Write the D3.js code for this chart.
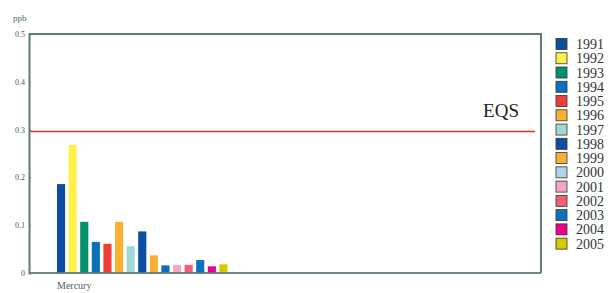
<!DOCTYPE html>
<html lang="en">
<head>
    <meta charset="UTF-8">
    <title>Mercury ppb</title>
    <style>
        body { margin: 0; background: #ffffff; }
        svg { display: block; }
    </style>
    <script src="https://cdn.jsdelivr.net/npm/d3@7"></script>
</head>
<body>
    <svg width="610" height="293"></svg>
    <script>
        // data
        const categories = ["Mercury"];
        const years = ["1991", "1992", "1993", "1994", "1995", "1996", "1997", "1998",
                       "1999", "2000", "2001", "2002", "2003", "2004", "2005"];
        const values = [0.186, 0.268, 0.107, 0.065, 0.061, 0.107, 0.056, 0.087,
                        0.037, 0.016, 0.017, 0.017, 0.027, 0.014, 0.018];
        const barColors = ["#0b4ea2", "#fff04a", "#00916e", "#0a72ba", "#ef3e36", "#fbb034", "#a0d8d4", "#0b4ea2",
                           "#fbb034", "#0a6fb5", "#f4a6c3", "#ef6079", "#0a72ba", "#ec008c", "#d6c900"];
        const legendColors = ["#0b4ea2", "#fff04a", "#00916e", "#0a72ba", "#ef3e36", "#fbb034", "#a0d8d4", "#0b4ea2",
                              "#fbb034", "#b8d0ec", "#f4a6c3", "#ef6079", "#0a72ba", "#ec008c", "#d6c900"];
        const yTicks = [0, 0.1, 0.2, 0.3, 0.4, 0.5];
        const eqs = 0.296;

        const svg = d3.select("svg");
        const axisColor = "#5f7d75";
        const font = "'Liberation Serif', serif";

        const plotL = 29, plotR = 541, plotT = 34, plotB = 273;

        const y = d3.scaleLinear().domain([0, 0.5]).range([plotB, plotT]);
        const x = d3.scaleBand().domain(years).range([57, 227.5]).paddingInner(0.3).paddingOuter(0);

        // bars
        svg.append("g").selectAll("rect")
            .data(years)
            .join("rect")
            .attr("x", d => x(d))
            .attr("y", (d, i) => y(values[i]))
            .attr("width", x.bandwidth())
            .attr("height", (d, i) => y(0) - y(values[i]))
            .attr("fill", (d, i) => barColors[i]);

        // frame: top + right
        svg.append("path")
            .attr("d", `M${plotL},${plotT}H${plotR}V${plotB}`)
            .attr("fill", "none")
            .attr("stroke", axisColor)
            .attr("stroke-width", 2);

        // y axis
        const yAxis = svg.append("g")
            .attr("transform", `translate(${plotL},0)`)
            .call(d3.axisLeft(y).tickValues(yTicks).tickSize(-2).tickPadding(4)
                .tickFormat(d => d === 0 ? "0" : d3.format(".1f")(d)));
        yAxis.select(".domain").attr("stroke", axisColor).attr("stroke-width", 2);
        yAxis.selectAll(".tick line").attr("stroke", axisColor);
        yAxis.selectAll(".tick text")
            .attr("fill", "#555")
            .style("font-family", font)
            .style("font-size", "8px");

        // x axis baseline
        svg.append("line")
            .attr("x1", plotL).attr("x2", plotR)
            .attr("y1", plotB).attr("y2", plotB)
            .attr("stroke", axisColor)
            .attr("stroke-width", 2)
            .attr("opacity", 0.9);

        // category label
        svg.append("text")
            .attr("x", x(years[0]))
            .attr("y", 289)
            .attr("fill", "#4a6560")
            .style("font-family", font)
            .style("font-size", "10px")
            .text(categories[0]);

        // unit
        svg.append("text")
            .attr("x", 13)
            .attr("y", 21)
            .attr("fill", "#4a6a62")
            .style("font-family", font)
            .style("font-size", "9px")
            .text("ppb");

        // EQS line
        svg.append("line")
            .attr("x1", plotL + 1).attr("x2", 535)
            .attr("y1", y(eqs)).attr("y2", y(eqs))
            .attr("stroke", "#e2302c")
            .attr("stroke-width", 1.5);
        svg.append("text")
            .attr("x", 519)
            .attr("y", 117)
            .attr("text-anchor", "end")
            .attr("fill", "#222")
            .style("font-family", font)
            .style("font-size", "19px")
            .text("EQS");

        // legend
        const legend = svg.append("g").selectAll("g")
            .data(years)
            .join("g")
            .attr("transform", (d, i) => `translate(556,${38.5 + i * 14.26})`);
        legend.append("rect")
            .attr("width", 11).attr("height", 11)
            .attr("fill", (d, i) => legendColors[i])
            .attr("stroke", "#333")
            .attr("stroke-width", 0.8);
        legend.append("text")
            .attr("x", 20)
            .attr("y", 10.5)
            .attr("fill", "#333")
            .style("font-family", font)
            .style("font-size", "14px")
            .text(d => d);
    </script>
</body>
</html>
